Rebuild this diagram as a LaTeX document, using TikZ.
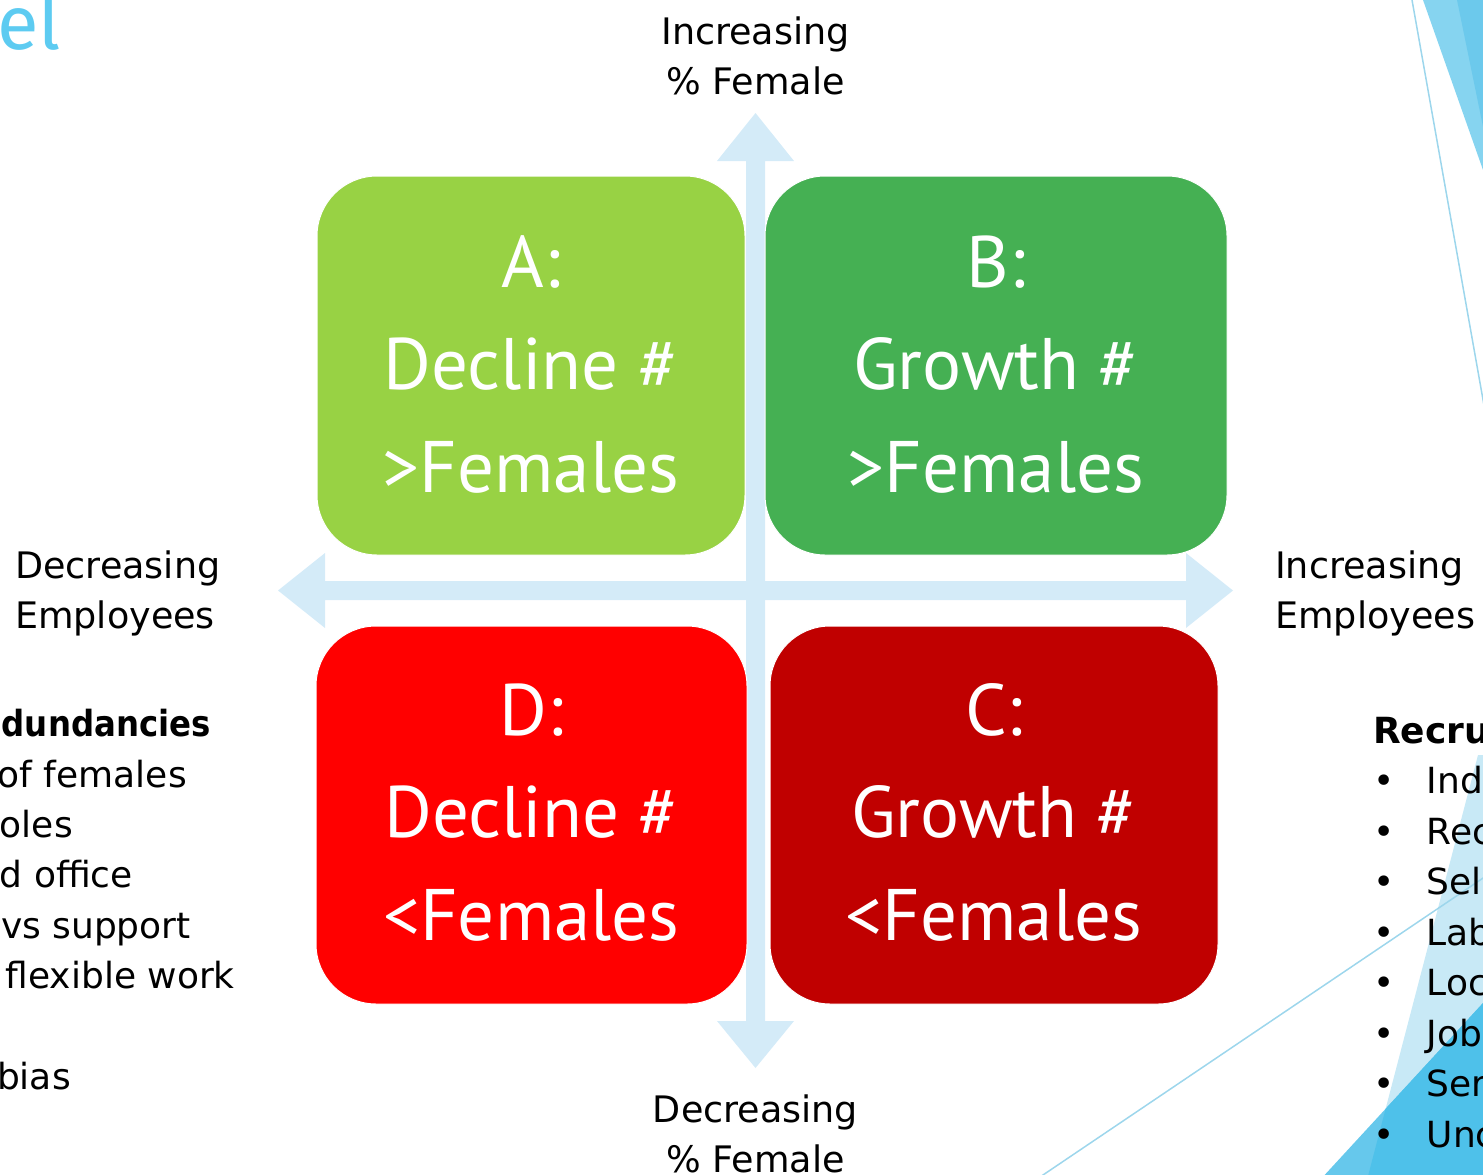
\documentclass[tikz,border=0pt]{standalone}
\usepackage{fontspec}
\setmainfont{DejaVu Sans}
\newfontfamily\boxfont{PT Sans}
\newfontfamily\titlefont{Fira Sans}
\newfontfamily\narrowbold{DejaVu Sans}[FakeStretch=0.9]

\definecolor{axisblue}{HTML}{D4EBF8}
\definecolor{quadA}{HTML}{98D244}
\definecolor{quadB}{HTML}{45B053}
\definecolor{quadC}{HTML}{C00000}
\definecolor{quadD}{HTML}{FF0000}
\definecolor{titleblue}{HTML}{5DCBF1}
\definecolor{facetLight}{HTML}{86D4F0}
\definecolor{facetMid}{HTML}{6CC9EC}
\definecolor{facetPale}{HTML}{C8E9F6}
\definecolor{facetBlue}{HTML}{66C8EC}
\definecolor{facetDeep}{HTML}{4EC1EA}
\definecolor{facetLine}{HTML}{9DD6EC}

\tikzset{
  axisfill/.style={fill=axisblue},
  qbox/.style={rounded corners=60pt, inner sep=0pt, draw=white, line width=1pt},
  qtext/.style={text=white, align=center, inner sep=0pt,
    font=\boxfont\fontsize{73}{102.5}\selectfont},
  lbl/.style={inner sep=0pt, align=center, font=\fontsize{36.5}{50.5}\selectfont},
  frag/.style={inner sep=0pt, anchor=base east, font=\fontsize{36}{50.5}\selectfont},
  facetline/.style={draw=facetLine, line width=1.5pt},
}

\begin{document}
\begin{tikzpicture}[x=1pt,y=-1pt]
\useasboundingbox (0,0) rectangle (1483,1175);

% facet decorations, top right
\fill[facetLight] (1423,0) -- (1495,0) -- (1495,204) -- cycle;
\fill[facetMid] (1457,0) -- (1495,0) -- (1495,185) -- cycle;
\draw[facetline] (1412,0) -- (1485,411);

% facet decorations, bottom right
\fill[facetPale] (1367,1180) -- (1478,755) -- (1495,755) -- (1495,1180) -- cycle;
\fill[facetBlue] (1320,1180) -- (1495,990) -- (1495,1180) -- cycle;
\begin{scope}
  \clip (1367,1180) -- (1478,755) -- (1495,755) -- (1495,1180) -- cycle;
  \fill[facetDeep] (1320,1180) -- (1495,990) -- (1495,1180) -- cycle;
\end{scope}
\draw[facetline] (1040,1177) -- (1495,870);

% title fragment
\node[anchor=base east, inner sep=0pt, text=titleblue,
  font=\titlefont\fontsize{76}{76}\selectfont] (ttl) at (61,49) {el};

% axes
\coordinate (up) at (755.5,113);
\coordinate (down) at (755.5,1068);
\coordinate (left) at (278,590.5);
\coordinate (right) at (1233,590.5);
\fill[axisfill] (746,161) -- (717,161) -- (up) -- (794,161) -- (765,161)
  -- (765,1021) -- (794,1021) -- (down) -- (717,1021) -- (746,1021) -- cycle;
\fill[axisfill] (325,581) -- (325,553) -- (left) -- (325,628) -- (325,600)
  -- (1186,600) -- (1186,628) -- (right) -- (1186,553) -- (1186,581) -- cycle;

% quadrants
\node[qbox, fill=quadA, minimum width=428pt, minimum height=379pt] (A) at (531,365.5) {};
\node[qbox, fill=quadB, minimum width=462pt, minimum height=379pt] (B) at (996,365.5) {};
\node[qbox, fill=quadD, minimum width=431pt, minimum height=378pt] (D) at (531.5,815) {};
\node[qbox, fill=quadC, minimum width=448pt, minimum height=378pt] (C) at (994,815) {};

\node[qtext] (At) at ([yshift=-3.5pt]A.center) {\strut A:\\\strut Decline \#\\\strut >Females};
\node[qtext] (Bt) at ([yshift=-3.5pt]B.center) {\strut B:\\\strut Growth \#\\\strut >Females};
\node[qtext] (Dt) at ([yshift=-2pt]D.center) {\strut D:\\\strut Decline \#\\\strut <Females};
\node[qtext] (Ct) at ([yshift=-2pt]C.center) {\strut C:\\\strut Growth \#\\\strut <Females};

% axis labels
\node[lbl] (ty) at (755.5,59.2) {\strut Increasing\\\strut \% Female};
\node[lbl] (by) at (755.5,1137.2) {\strut Decreasing\\\strut \% Female};
\node[lbl, anchor=west, align=left] (lx) at (15,593.2) {\strut Decreasing\\\strut Employees};
\node[lbl, anchor=west, align=left] (rx) at (1275,593.2) {\strut Increasing\\\strut Employees};

% left list
\node[frag, font=\narrowbold\bfseries\fontsize{36}{50.5}\selectfont] (l1) at (211,736) {dundancies};
\node[frag] (l2) at (187,787) {of females};
\node[frag] (l3) at (73,837) {oles};
\node[frag] (l4) at (133,887.5) {d office};
\node[frag] (l5) at (191,938) {vs support};
\node[frag] (l6) at (235,988.5) {flexible work};
\node[frag] (l7) at (71,1089) {bias};

% right list
\node[lbl, anchor=west, align=left, font=\fontsize{36}{50.5}\selectfont] (rl) at (1373,934.9) {%
  \strut\textbf{Recru}\\
  \strut\makebox[53.5pt][l]{•}Ind\\
  \strut\makebox[53.5pt][l]{•}Rec\\
  \strut\makebox[53.5pt][l]{•}Sel\\
  \strut\makebox[53.5pt][l]{•}Lab\\
  \strut\makebox[53.5pt][l]{•}Loc\\
  \strut\makebox[53.5pt][l]{•}Job\\
  \strut\makebox[53.5pt][l]{•}Ser\\
  \strut\makebox[53.5pt][l]{•}Unc};
\end{tikzpicture}
\end{document}
